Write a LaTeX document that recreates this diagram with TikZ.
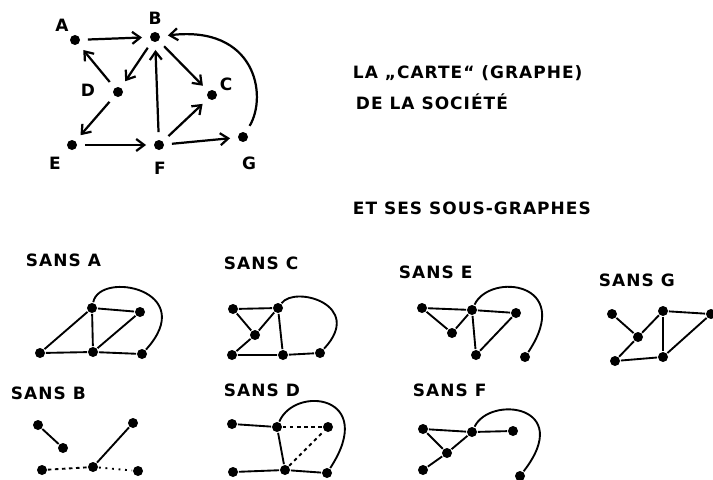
\documentclass[tikz,border=0pt]{standalone}
\usepackage{fontspec}
\setmainfont[LetterSpace=6]{DejaVu Sans}
\usetikzlibrary{arrows.meta}

\begin{document}
\begin{tikzpicture}[x=0.03cm, y=-0.03cm, line width=1.6pt,
    pt/.style={circle, fill, inner sep=0pt, minimum size=0.3cm},
    lbl/.style={font=\fontsize{14.5}{16}\selectfont\bfseries, inner sep=0pt},
    arr/.style={line width=1.9pt, -{Straight Barb[length=2.4mm, width=3.6mm]},
      shorten >=6pt, shorten <=6pt}]
  \useasboundingbox (0,0) rectangle (713,479);

  % la carte
  \node[pt] (A) at (75,40) {};
  \node[pt] (B) at (155,37) {};
  \node[pt] (C) at (212,95) {};
  \node[pt] (D) at (118,92) {};
  \node[pt] (E) at (72,145) {};
  \node[pt] (F) at (159,145) {};
  \node[pt] (G) at (243,137) {};
  \node[lbl] (lA) at (62,25) {A};
  \node[lbl] (lB) at (155,18) {B};
  \node[lbl] (lC) at (226,84) {C};
  \node[lbl] (lD) at (88,90) {D};
  \node[lbl] (lE) at (55,163) {E};
  \node[lbl] (lF) at (160,168) {F};
  \node[lbl] (lG) at (249,163) {G};
  \draw[arr] (A) -- (B);
  \draw[arr] (B) -- (D);
  \draw[arr] (D) -- (A);
  \draw[arr] (D) -- (E);
  \draw[arr] (E) -- (F);
  \draw[arr] (F) -- (B);
  \draw[arr] (B) -- (C);
  \draw[arr] (F) -- (C);
  \draw[arr] (F) -- (G);
  \draw[arr] (G) .. controls (268,95) and (255,25) .. (B);

  \node[lbl, anchor=west] (titre1) at (352,73) {LA „CARTE“ (GRAPHE)};
  \node[lbl, anchor=west] (titre2) at (355,102) {DE LA SOCIÉTÉ};
  \node[lbl, anchor=west] (titre3) at (352,208) {ET SES SOUS-GRAPHES};

  % sans A
  \node[lbl, anchor=west] (sA) at (25,260) {SANS A};
  \node[pt] (a1) at (92,308) {};
  \node[pt] (a2) at (140,312) {};
  \node[pt] (a3) at (40,353) {};
  \node[pt] (a4) at (93,352) {};
  \node[pt] (a5) at (142,354) {};
  \draw (a3) -- (a1) -- (a2);
  \draw (a3) -- (a4) -- (a5);
  \draw (a1) -- (a4) -- (a2);
  \draw (a1) .. controls (100,270) and (200,290) .. (a5);

  % sans C
  \node[lbl, anchor=west] (sC) at (223,263) {SANS C};
  \node[pt] (c1) at (233,309) {};
  \node[pt] (c2) at (278,308) {};
  \node[pt] (c3) at (255,335) {};
  \node[pt] (c4) at (232,355) {};
  \node[pt] (c5) at (283,355) {};
  \node[pt] (c6) at (320,353) {};
  \draw (c1) -- (c2);
  \draw (c1) -- (c3) -- (c2);
  \draw (c3) -- (c4) -- (c5) -- (c6);
  \draw (c2) -- (c5);
  \draw (c2) .. controls (295,285) and (365,305) .. (c6);

  % sans E
  \node[lbl, anchor=west] (sE) at (398,272) {SANS E};
  \node[pt] (e1) at (422,308) {};
  \node[pt] (e2) at (472,310) {};
  \node[pt] (e3) at (516,313) {};
  \node[pt] (e4) at (452,333) {};
  \node[pt] (e5) at (476,355) {};
  \node[pt] (e6) at (525,357) {};
  \draw (e1) -- (e2) -- (e3);
  \draw (e1) -- (e4) -- (e2);
  \draw (e2) -- (e5) -- (e3);
  \draw (e2) .. controls (490,272) and (575,282) .. (e6);

  % sans G
  \node[lbl, anchor=west] (sG) at (598,280) {SANS G};
  \node[pt] (g1) at (612,314) {};
  \node[pt] (g2) at (663,311) {};
  \node[pt] (g3) at (711,314) {};
  \node[pt] (g4) at (638,337) {};
  \node[pt] (g5) at (615,361) {};
  \node[pt] (g6) at (663,357) {};
  \draw (g1) -- (g4) -- (g2);
  \draw (g4) -- (g5) -- (g6);
  \draw (g2) -- (g6);
  \draw (g2) -- (g3) -- (g6);

  % sans B
  \node[lbl, anchor=west] (sB) at (10,393) {SANS B};
  \node[pt] (b1) at (38,425) {};
  \node[pt] (b2) at (63,448) {};
  \node[pt] (b3) at (133,423) {};
  \node[pt] (b4) at (42,470) {};
  \node[pt] (b5) at (93,467) {};
  \node[pt] (b6) at (138,471) {};
  \draw (b1) -- (b2);
  \draw (b3) -- (b5);
  \draw[dashed] (b4) -- (b5);
  \draw[loosely dotted] (b5) -- (b6);

  % sans D
  \node[lbl, anchor=west] (sD) at (223,390) {SANS D};
  \node[pt] (d1) at (232,424) {};
  \node[pt] (d2) at (277,427) {};
  \node[pt] (d3) at (328,427) {};
  \node[pt] (d4) at (233,472) {};
  \node[pt] (d5) at (285,470) {};
  \node[pt] (d6) at (327,473) {};
  \draw (d1) -- (d2);
  \draw[dashed] (d2) -- (d3);
  \draw (d2) -- (d5);
  \draw[dashed] (d5) -- (d3);
  \draw (d4) -- (d5) -- (d6);
  \draw (d2) .. controls (295,385) and (378,395) .. (d6);

  % sans F
  \node[lbl, anchor=west] (sF) at (412,390) {SANS F};
  \node[pt] (f1) at (423,429) {};
  \node[pt] (f2) at (472,432) {};
  \node[pt] (f3) at (513,431) {};
  \node[pt] (f4) at (447,453) {};
  \node[pt] (f5) at (423,470) {};
  \node[pt] (f6) at (520,476) {};
  \draw (f1) -- (f2) -- (f3);
  \draw (f1) -- (f4) -- (f2);
  \draw (f4) -- (f5);
  \draw (f2) .. controls (490,395) and (575,405) .. (f6);
\end{tikzpicture}
\end{document}
